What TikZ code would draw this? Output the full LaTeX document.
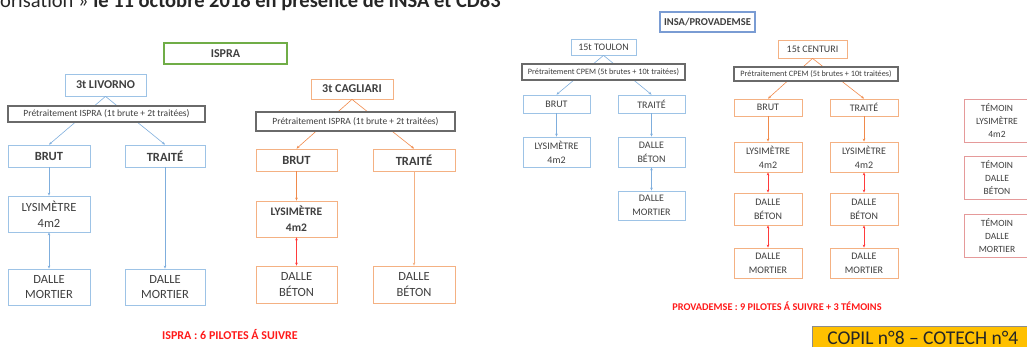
\documentclass[tikz,border=0pt]{standalone}
\usepackage{fontspec}
\setmainfont{Carlito}
\usetikzlibrary{arrows.meta}
\definecolor{txt}{HTML}{3F3F3F}
\definecolor{ttl}{HTML}{262626}
\definecolor{blueB}{HTML}{9DC3E6}
\definecolor{blueA}{HTML}{7FAEDD}
\definecolor{orB}{HTML}{F4B183}
\definecolor{orA}{HTML}{F08A4B}
\definecolor{redA}{HTML}{FF3B3B}
\definecolor{grnB}{HTML}{70AD47}
\definecolor{insaB}{HTML}{7A9CD3}
\definecolor{preB}{HTML}{6A6A6A}
\definecolor{temB}{HTML}{E59A9A}
\definecolor{copilF}{HTML}{FFC000}
\definecolor{redT}{HTML}{FF1A1A}
\newcommand\myfs[2]{\fontsize{#1}{#2}\selectfont}
\begin{document}
\begin{tikzpicture}[x=1pt,y=-1pt,
  box/.style={draw, fill=white, inner sep=0pt, align=center, text=txt, line width=0.8pt},
  bbox/.style={box, draw=blueB},
  obox/.style={box, draw=orB},
  pbox/.style={box, draw=preB, line width=1.1pt},
  tbox/.style={box, draw=temB},
  tip/.style={-{Stealth[length=3pt,width=2.6pt]}},
  tips/.style={{Stealth[length=3pt,width=2.6pt]}-{Stealth[length=3pt,width=2.6pt]}},
  barr/.style={draw=blueA, line width=0.6pt},
  oarr/.style={draw=orA, line width=0.6pt},
  rarr/.style={draw=redA, line width=0.7pt},
  bigL/.style={font=\bfseries\myfs{12.5}{15}},
  regL/.style={font=\myfs{12.5}{15.7}},
  smL/.style={font=\myfs{10}{14}},
  preL/.style={font=\myfs{9.5}{11}},
  preS/.style={font=\myfs{8.2}{10}}
]
\useasboundingbox (0,0) rectangle (1027,347);
\clip (0,0) rectangle (1027,347);

% title
\node[anchor=base west, inner sep=0pt, text=ttl, font=\myfs{20.5}{24}] (title) at (0,8)
  {orisation » \textbf{le 11 octobre 2018 en présence de INSA et CD83}};

% ===== ISPRA =====
\node[box, draw=grnB, line width=1.5pt, minimum width=123, minimum height=21, font=\bfseries\myfs{12}{14}] (ispra) at (225.5,53.5) {ISPRA};

% Livorno
\node[bbox, minimum width=81, minimum height=22, font=\bfseries\myfs{12}{14}] (livorno) at (105.5,85) {3t LIVORNO};
\node[bbox, bigL, minimum width=82, minimum height=22] (lbrut) at (49,156) {BRUT};
\node[bbox, bigL, minimum width=80, minimum height=22] (ltraite) at (165,156) {TRAITÉ};
\node[bbox, regL, minimum width=82, minimum height=36] (llys) at (49,214) {LYSIMÈTRE\\4m2};
\node[bbox, regL, minimum width=82, minimum height=36] (lmor1) at (49,287) {DALLE\\MORTIER};
\node[bbox, regL, minimum width=80, minimum height=36] (lmor2) at (165,287) {DALLE\\MORTIER};

\draw[barr, tip] (livorno.south) -- (lbrut.north);
\draw[barr, tip] (livorno.south) -- (ltraite.north);
\draw[barr, tip] (lbrut.south) -- (llys.north);
\draw[barr, tips] (llys.south) -- (lmor1.north);
\draw[barr, tip] (ltraite.south) -- (lmor2.north);
\node[pbox, preL, minimum width=197, minimum height=16] (lpre) at (106.5,114) {Prétraitement ISPRA (1t brute + 2t traitées)};

% Cagliari
\node[obox, minimum width=82, minimum height=20, font=\bfseries\myfs{12}{14}] (cagliari) at (352,89) {3t CAGLIARI};
\node[obox, bigL, minimum width=81, minimum height=22] (cbrut) at (296.5,160) {BRUT};
\node[obox, bigL, minimum width=82, minimum height=22] (ctraite) at (414,160) {TRAITÉ};
\node[obox, font=\bfseries\myfs{11.5}{15.7}, minimum width=81, minimum height=36] (clys) at (296.5,219) {LYSIMÈTRE\\4m2};
\node[obox, regL, minimum width=81, minimum height=37] (cbet1) at (296.5,284.5) {DALLE\\BÉTON};
\node[obox, regL, minimum width=82, minimum height=37] (cbet2) at (414,284.5) {DALLE\\BÉTON};

\draw[oarr, tip] (cagliari.south) -- (cbrut.north);
\draw[oarr, tip] (cagliari.south) -- (ctraite.north);
\draw[oarr, tip] (cbrut.south) -- (clys.north);
\draw[rarr, tips] (clys.south) -- (cbet1.north);
\draw[draw=orB, line width=0.6pt, tip] (ctraite.south) -- (cbet2.north);
\node[pbox, preL, minimum width=199, minimum height=19] (cpre) at (355.5,121.5) {Prétraitement ISPRA (1t brute + 2t traitées)};

\node[text=redT, font=\bfseries\myfs{12}{14}] (isprares) at (230,335) {ISPRA : 6 PILOTES Á SUIVRE};

% ===== INSA / PROVADEMSE =====
\node[box, draw=insaB, line width=1.6pt, minimum width=95, minimum height=20, font=\bfseries\myfs{10.5}{12}] (insa) at (707.5,22) {INSA/PROVADEMSE};

% Toulon
\node[bbox, smL, minimum width=65, minimum height=16] (toulon) at (603.5,47) {15t TOULON};
\node[bbox, smL, minimum width=67, minimum height=18] (tbrut) at (556.5,104) {BRUT};
\node[bbox, smL, minimum width=67, minimum height=18] (ttraite) at (651.5,104) {TRAITÉ};
\node[bbox, smL, minimum width=67, minimum height=30] (tlys) at (556.5,152) {LYSIMÈTRE\\4m2};
\node[bbox, smL, minimum width=67, minimum height=30] (tbet) at (651.5,152) {DALLE\\BÉTON};
\node[bbox, smL, minimum width=67, minimum height=29] (tmor) at (651.5,205.5) {DALLE\\MORTIER};

\draw[barr, tip] (toulon.south) -- (tbrut.north);
\draw[barr, tip] (toulon.south) -- (ttraite.north);
\draw[barr, tip] (tbrut.south) -- (tlys.north);
\draw[barr, tip] (ttraite.south) -- (tbet.north);
\draw[barr, tips] (tbet.south) -- (tmor.north);
\node[pbox, preS, minimum width=163, minimum height=16] (tpre) at (603.5,72) {Prétraitement CPEM (5t brutes + 10t traitées)};

% Centuri
\node[obox, smL, minimum width=69, minimum height=18] (centuri) at (812.5,49) {15t CENTURI};
\node[obox, smL, minimum width=68, minimum height=17] (ebrut) at (768,107.5) {BRUT};
\node[obox, smL, minimum width=68, minimum height=17] (etraite) at (864,107.5) {TRAITÉ};
\node[obox, smL, minimum width=68, minimum height=30] (elys1) at (768,157) {LYSIMÈTRE\\4m2};
\node[obox, smL, minimum width=68, minimum height=30] (elys2) at (864,157) {LYSIMÈTRE\\4m2};
\node[obox, smL, minimum width=68, minimum height=32] (ebet1) at (768,209) {DALLE\\BÉTON};
\node[obox, smL, minimum width=68, minimum height=32] (ebet2) at (864,209) {DALLE\\BÉTON};
\node[obox, smL, minimum width=68, minimum height=30] (emor1) at (768,263) {DALLE\\MORTIER};
\node[obox, smL, minimum width=68, minimum height=30] (emor2) at (864,263) {DALLE\\MORTIER};

\draw[oarr, tip] (centuri.south) -- (ebrut.north);
\draw[oarr, tip] (centuri.south) -- (etraite.north);
\draw[oarr, tip] (ebrut.south) -- (elys1.north);
\draw[oarr, tip] (etraite.south) -- (elys2.north);
\draw[rarr, tips] (elys1.south) -- (ebet1.north);
\draw[rarr, tips] (elys2.south) -- (ebet2.north);
\draw[rarr, tips] (ebet1.south) -- (emor1.north);
\draw[rarr, tips] (ebet2.south) -- (emor2.north);
\node[pbox, preS, minimum width=164, minimum height=14] (epre) at (816,74) {Prétraitement CPEM (5t brutes + 10t traitées)};

% Témoins
\node[tbox, font=\myfs{9.5}{13}, minimum width=66, minimum height=43] (tem1) at (997,120.5) {TÉMOIN\\LYSIMÈTRE\\4m2};
\node[tbox, font=\myfs{9.5}{13}, minimum width=66, minimum height=43] (tem2) at (997,177.5) {TÉMOIN\\DALLE\\BÉTON};
\node[tbox, font=\myfs{9.5}{13}, minimum width=66, minimum height=43] (tem3) at (997,235.5) {TÉMOIN\\DALLE\\MORTIER};

\node[text=redT, font=\bfseries\myfs{10.3}{12}] (provres) at (777,306) {PROVADEMSE : 9 PILOTES Á SUIVRE + 3 TÉMOINS};

% COPIL
\node[anchor=north west, draw=black!45, line width=0.5pt, fill=copilF, text=ttl,
  font=\myfs{19.5}{22}, inner xsep=15pt, inner ysep=6pt, text height=12.5pt, text depth=6pt]
  (copil) at (812,326) {COPIL n°8 – COTECH n°4};
\end{tikzpicture}
\end{document}
